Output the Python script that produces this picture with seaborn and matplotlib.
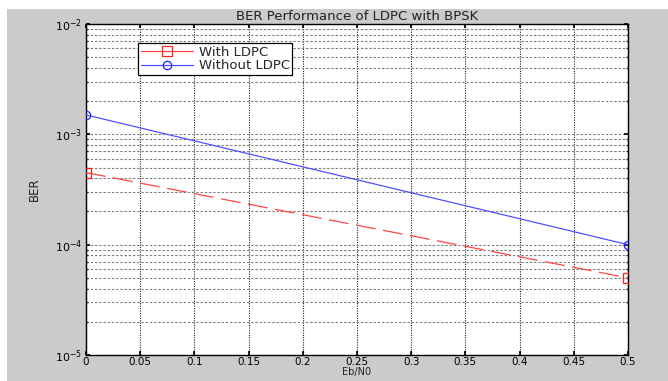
import numpy as np
import pandas as pd
import matplotlib
matplotlib.use("Agg")
import matplotlib.pyplot as plt
import seaborn as sns
from matplotlib.patches import Rectangle
from matplotlib.ticker import LogLocator, FixedLocator, NullFormatter

# ---- data ----
ebn0 = [0.0, 0.5]
ber_with_ldpc = [4.5e-4, 5.0e-5]
ber_without_ldpc = [1.5e-3, 1.0e-4]
series_names = ["With LDPC", "Without LDPC"]
x_ticks = [0, 0.05, 0.1, 0.15, 0.2, 0.25, 0.3, 0.35, 0.4, 0.45, 0.5]
x_tick_labels = ["0", "0.05", "0.1", "0.15", "0.2", "0.25", "0.3", "0.35", "0.4", "0.45", "0.5"]
title = "BER Performance of LDPC with BPSK"
xlabel = "Eb/N0"
ylabel = "BER"

sns.set_theme(style="white")
plt.rcParams['font.family'] = ['DejaVu Sans']

W, H = 668, 381
fig = plt.figure(figsize=(W / 100, H / 100), dpi=100, facecolor="white")
fig.patches.append(Rectangle((7 / W, 0), 1 - 7 / W, 1 - 9 / H, transform=fig.transFigure,
                             facecolor="#cbcbcb", edgecolor="none", zorder=-10))
ax = fig.add_axes([86 / W, 1 - 355 / H, (628 - 86) / W, (355 - 24) / H])
ax.set_facecolor("white")

df1 = pd.DataFrame({"x": ebn0, "y": ber_with_ldpc})
df2 = pd.DataFrame({"x": ebn0, "y": ber_without_ldpc})
sns.lineplot(data=df1, x="x", y="y", ax=ax, color="#ff4646", linewidth=0.9,
             linestyle=(0, (16, 6)), marker="s", markersize=6.5,
             markerfacecolor="none", markeredgecolor="#ff2020", markeredgewidth=0.9,
             label=series_names[0], zorder=5)
sns.lineplot(data=df2, x="x", y="y", ax=ax, color="#5050ff", linewidth=0.9,
             marker="o", markersize=6,
             markerfacecolor="none", markeredgecolor="#2020ff", markeredgewidth=0.9,
             label=series_names[1], zorder=5)

ax.set_yscale("log")
ax.set_ylim(1e-5, 1e-2)
ax.set_xlim(0, 0.5)
ax.xaxis.set_major_locator(FixedLocator(x_ticks))
ax.set_xticklabels(x_tick_labels)
ax.yaxis.set_major_locator(LogLocator(base=10, numticks=10))
ax.yaxis.set_minor_locator(LogLocator(base=10, subs=np.arange(2, 10), numticks=20))
ax.yaxis.set_minor_formatter(NullFormatter())

ax.grid(True, which="major", axis="x", color="#222222", linestyle=(0, (1, 1.2)), linewidth=0.8)
ax.grid(True, which="both", axis="y", color="#808080", linestyle=(0, (2.2, 1.6)), linewidth=0.8)

for s in ax.spines.values():
    s.set_visible(True)
    s.set_color("black")
    s.set_linewidth(1.0)

ax.tick_params(axis="both", which="major", direction="in", length=3, labelsize=8,
               colors="black", top=True, right=True, left=True, bottom=True, pad=3)
ax.tick_params(axis="x", which="major", pad=1.5, labelsize=7.5)
ax.tick_params(axis="y", which="minor", direction="in", length=1.5, left=True, right=True)

ax.set_title(title, fontsize=9.5, pad=3, color="#222222")
ax.set_xlabel(xlabel, fontsize=7, labelpad=0, color="#222222")
ax.set_ylabel(ylabel, fontsize=8.5, labelpad=10, color="#222222")

leg = ax.legend(loc="upper left", bbox_to_anchor=(0.096, 0.943), fontsize=9.5,
                frameon=True, fancybox=False, edgecolor="black", framealpha=1,
                borderpad=0.2, labelspacing=0.05, handlelength=4.0, handletextpad=0.4,
                borderaxespad=0)
leg.get_frame().set_linewidth(0.9)
for line in leg.get_lines():
    line.set_linestyle("-")

fig.savefig("out.png", dpi=100, facecolor=fig.get_facecolor())
